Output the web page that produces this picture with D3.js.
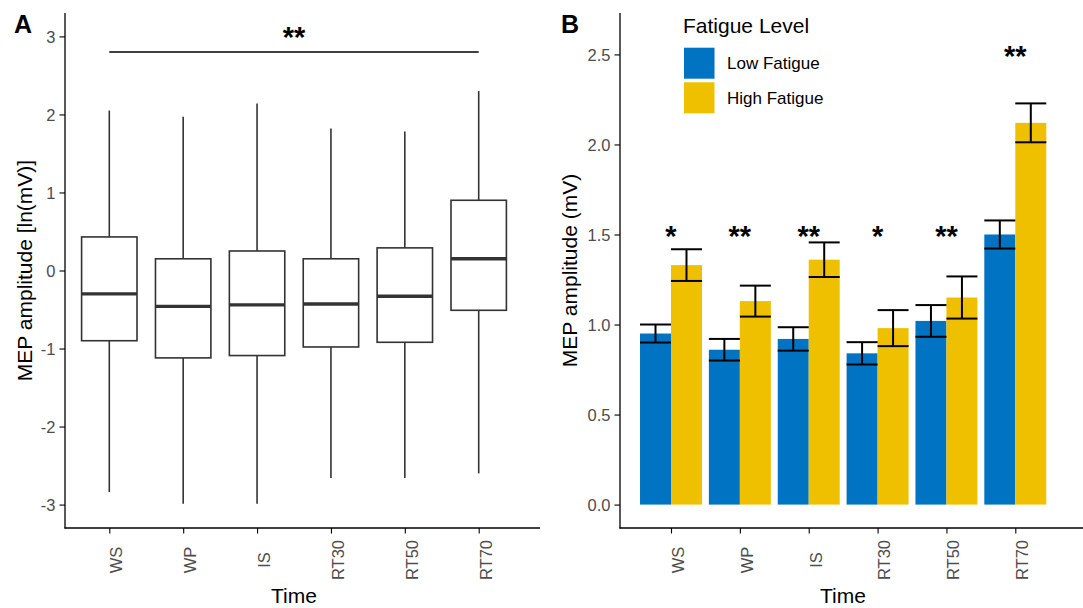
<!DOCTYPE html>
<html>
<head>
<meta charset="utf-8">
<script src="https://cdn.jsdelivr.net/npm/d3@7"></script>
<style>
  body { margin: 0; background: #fff; }
  svg { font-family: "Liberation Sans", Arial, sans-serif; }
</style>
</head>
<body>
<svg id="chart" width="1083" height="608"></svg>
<script>
// time points shared by both panels
var timePoints = ['WS', 'WP', 'IS', 'RT30', 'RT50', 'RT70']

// panel A: box summaries of ln(MEP)
var whiskerLow = [-2.84, -2.99, -2.99, -2.66, -2.66, -2.60]
var quart1 = [-0.90, -1.12, -1.09, -0.98, -0.92, -0.51]
var medians = [-0.30, -0.46, -0.44, -0.43, -0.33, 0.15]
var quart3 = [0.43, 0.15, 0.25, 0.15, 0.29, 0.90]
var whiskerHigh = [2.05, 1.97, 2.14, 1.82, 1.78, 2.30]
var boxTicks = [-3, -2, -1, 0, 1, 2, 3]

// panel B: mean MEP by fatigue level with standard errors
var fatigueLevels = ['Low Fatigue', 'High Fatigue']
var lowMean = [0.95, 0.86, 0.92, 0.84, 1.02, 1.50]
var lowSE = [0.05, 0.06, 0.065, 0.062, 0.088, 0.078]
var highMean = [1.33, 1.13, 1.36, 0.98, 1.15, 2.12]
var highSE = [0.088, 0.086, 0.096, 0.10, 0.117, 0.108]
var sigLabels = ['*', '**', '**', '*', '**', '**']
var sigHeights = [1.53, 1.53, 1.53, 1.53, 1.53, 2.53]
var barTicks = [0, 0.5, 1, 1.5, 2, 2.5]

var BLUE = '#0073C2'
var YELLOW = '#EFC000'
var TICK_GREY = '#4D4D4D'
var BOX_LINE = '#333333'

var svg = d3.select('#chart')

function styleAxis(g) {
  g.selectAll('.domain').remove()
  g.selectAll('.tick line').attr('stroke', '#000').attr('stroke-width', 1.1)
  g.selectAll('.tick text').attr('fill', TICK_GREY).attr('font-size', 16.5)
}

function drawLine(g, x1, y1, x2, y2, w, c) {
  g.append('line')
    .attr('x1', x1).attr('y1', y1).attr('x2', x2).attr('y2', y2)
    .attr('stroke', c || '#000').attr('stroke-width', w)
}

// ---------- panel A ----------
var pA = svg.append('g')
var xA = d3.scalePoint().domain(timePoints).range([109.3, 478.7])
var yA = d3.scaleLinear().domain([-3.3, 3.3]).range([528, 13])
var boxW = xA.step() * 0.75

pA.append('g')
  .attr('transform', 'translate(65,0)')
  .call(d3.axisLeft(yA).tickValues(boxTicks).tickSize(5.5).tickPadding(4)
    .tickFormat(function (d) { return String(d) }))
  .call(styleAxis)
  .selectAll('.tick text').attr('dy', '0.35em')

var axA = pA.append('g')
  .attr('transform', 'translate(0,528)')
  .call(d3.axisBottom(xA).tickSize(5.5).tickFormat(''))
  .call(styleAxis)
axA.selectAll('.tick').append('text')
  .attr('transform', 'translate(12.4,32) rotate(-90)')
  .attr('text-anchor', 'middle')
  .attr('fill', TICK_GREY).attr('font-size', 16.5)
  .text(function (d) { return d })

drawLine(pA, 65, 13, 65, 528.5, 1.3)
drawLine(pA, 64.5, 528, 540, 528, 1.3)

var boxes = pA.selectAll('g.box')
  .data(timePoints)
  .enter().append('g')
  .attr('class', 'box')

boxes.each(function (t, i) {
  var g = d3.select(this)
  var cx = xA(t)
  drawLine(g, cx, yA(whiskerHigh[i]), cx, yA(quart3[i]), 1.6, BOX_LINE)
  drawLine(g, cx, yA(quart1[i]), cx, yA(whiskerLow[i]), 1.6, BOX_LINE)
  g.append('rect')
    .attr('x', cx - boxW / 2)
    .attr('y', yA(quart3[i]))
    .attr('width', boxW)
    .attr('height', yA(quart1[i]) - yA(quart3[i]))
    .attr('fill', '#fff')
    .attr('stroke', BOX_LINE)
    .attr('stroke-width', 1.6)
  drawLine(g, cx - boxW / 2, yA(medians[i]), cx + boxW / 2, yA(medians[i]), 3.4, BOX_LINE)
})

// overall effect bracket
drawLine(pA, xA('WS'), yA(2.8), xA('RT70'), yA(2.8), 1.6)
pA.append('text')
  .attr('x', (xA('WS') + xA('RT70')) / 2)
  .attr('y', yA(3.07))
  .attr('dy', '0.57em')
  .attr('text-anchor', 'middle')
  .attr('font-size', 29).attr('font-weight', 'bold')
  .text('**')

pA.append('text')
  .attr('transform', 'translate(31.5,270.5) rotate(-90)')
  .attr('text-anchor', 'middle').attr('font-size', 21)
  .text('MEP amplitude [ln(mV)]')
pA.append('text')
  .attr('x', 294).attr('y', 603)
  .attr('text-anchor', 'middle').attr('font-size', 21)
  .text('Time')
pA.append('text')
  .attr('x', 14).attr('y', 32.5)
  .attr('font-size', 25).attr('font-weight', 'bold')
  .text('A')

// ---------- panel B ----------
var pB = svg.append('g')
var xB = d3.scalePoint().domain(timePoints).range([671, 1015.3])
var yB = d3.scaleLinear().domain([-0.13, 2.73]).range([528, 13])
var barW = xB.step() * 0.45

pB.append('g')
  .attr('transform', 'translate(620,0)')
  .call(d3.axisLeft(yB).tickValues(barTicks).tickSize(5.5).tickPadding(4)
    .tickFormat(d3.format('.1f')))
  .call(styleAxis)
  .selectAll('.tick text').attr('dy', '0.35em')

var axB = pB.append('g')
  .attr('transform', 'translate(0,528)')
  .call(d3.axisBottom(xB).tickSize(5.5).tickFormat(''))
  .call(styleAxis)
axB.selectAll('.tick').append('text')
  .attr('transform', 'translate(12.4,32) rotate(-90)')
  .attr('text-anchor', 'middle')
  .attr('fill', TICK_GREY).attr('font-size', 16.5)
  .text(function (d) { return d })

drawLine(pB, 620, 13, 620, 528.5, 1.3)
drawLine(pB, 619.5, 528, 1083, 528, 1.3)

var series = [
  { name: fatigueLevels[0], mean: lowMean, se: lowSE, color: BLUE, shift: -1 },
  { name: fatigueLevels[1], mean: highMean, se: highSE, color: YELLOW, shift: 0 }
]

series.forEach(function (s) {
  var g = pB.append('g')
  timePoints.forEach(function (t, i) {
    var x0 = xB(t) + s.shift * barW
    g.append('rect')
      .attr('x', x0).attr('y', yB(s.mean[i]))
      .attr('width', barW)
      .attr('height', yB(0) - yB(s.mean[i]))
      .attr('fill', s.color)
  })
})

series.forEach(function (s) {
  var g = pB.append('g')
  timePoints.forEach(function (t, i) {
    var x0 = xB(t) + s.shift * barW
    var cx = x0 + barW / 2
    var hi = yB(s.mean[i] + s.se[i])
    var lo = yB(s.mean[i] - s.se[i])
    drawLine(g, cx, hi, cx, lo, 2)
    drawLine(g, x0, hi, x0 + barW, hi, 2)
    drawLine(g, x0, lo, x0 + barW, lo, 2)
  })
})

pB.selectAll('text.sig')
  .data(timePoints)
  .enter().append('text')
  .attr('class', 'sig')
  .attr('x', function (t) { return xB(t) })
  .attr('y', function (t, i) { return yB(sigHeights[i]) })
  .attr('dy', '0.57em')
  .attr('text-anchor', 'middle')
  .attr('font-size', 29).attr('font-weight', 'bold')
  .text(function (t, i) { return sigLabels[i] })

// legend
var legend = pB.append('g').attr('transform', 'translate(683,0)')
legend.append('text')
  .attr('x', 0).attr('y', 33)
  .attr('font-size', 21)
  .text('Fatigue Level')
series.forEach(function (s, i) {
  legend.append('rect')
    .attr('x', 1).attr('y', 47.7 + i * 34.6)
    .attr('width', 30.5).attr('height', 31)
    .attr('fill', s.color)
  legend.append('text')
    .attr('x', 44).attr('y', 63.5 + i * 34.6)
    .attr('dy', '0.35em')
    .attr('font-size', 17)
    .text(s.name)
})

pB.append('text')
  .attr('transform', 'translate(577,270.5) rotate(-90)')
  .attr('text-anchor', 'middle').attr('font-size', 21)
  .text('MEP amplitude (mV)')
pB.append('text')
  .attr('x', 843).attr('y', 603)
  .attr('text-anchor', 'middle').attr('font-size', 21)
  .text('Time')
pB.append('text')
  .attr('x', 561).attr('y', 32.5)
  .attr('font-size', 25).attr('font-weight', 'bold')
  .text('B')
</script>
</body>
</html>
